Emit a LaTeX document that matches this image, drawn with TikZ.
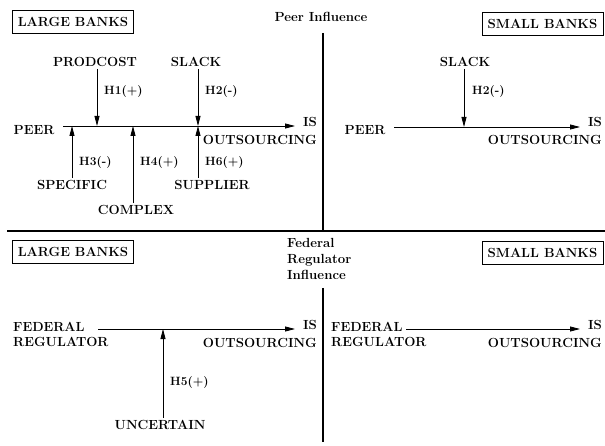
\documentclass[tikz,border=0pt]{standalone}
\usetikzlibrary{arrows.meta}
\begin{document}
\begin{tikzpicture}[x=1pt,y=-1pt,
  lbl/.style={font=\fontsize{13.2}{15}\selectfont\bfseries, inner sep=2pt},
  hlbl/.style={font=\fontsize{12}{14}\selectfont\bfseries, inner sep=1pt, anchor=west},
  box/.style={lbl, draw, line width=0.6pt, inner sep=0pt, minimum width=121pt, minimum height=23pt},
  arr/.style={line width=0.8pt, -{Triangle[length=10pt,width=5pt]}},
  div/.style={line width=1.2pt}]
\useasboundingbox (0,0) rectangle (605,446);

% dividers
\draw[div] (7,231) -- (605,231);
\draw[div] (323,33) -- (323,231);
\draw[div] (323,288) -- (323,442);

% titles
\node[lbl] (ptitle) at (321,17) {Peer Influence};
\node[lbl, align=left, anchor=west, font=\fontsize{13.2}{16}\selectfont\bfseries] (ftitle) at (285,259) {Federal\\Regulator\\Influence};

% boxes
\node[box] (lb1) at (73,21.5) {LARGE BANKS};
\node[box] (sb1) at (542.5,24) {SMALL BANKS};
\node[box] (lb2) at (73,252) {LARGE BANKS};
\node[box] (sb2) at (542.5,253) {SMALL BANKS};

% ---------- top left ----------
\node[lbl] (peer1) at (34,130) {PEER};
\node[lbl, anchor=east] (is1) at (319,122) {IS};
\node[lbl, anchor=east] (out1) at (319,140) {OUTSOURCING};
\coordinate (a1) at (63,126);
\coordinate (b1) at (295,126);
\draw[arr] (a1) -- (b1);

\node[lbl] (prodcost) at (95,62) {PRODCOST};
\node[lbl] (slack1) at (196,62) {SLACK};
\node[lbl] (specific) at (72,185) {SPECIFIC};
\node[lbl] (complex) at (136,210) {COMPLEX};
\node[lbl] (supplier) at (212,185) {SUPPLIER};

\coordinate (jP) at (97,126);
\coordinate (jS) at (198,126);
\coordinate (jSp) at (72,126);
\coordinate (jC) at (133,126);

\draw[arr] (jP |- prodcost.south) -- (jP);
\draw[arr] (jS |- slack1.south) -- (jS);
\draw[arr] (jSp |- specific.north) -- (jSp);
\draw[arr] (jC |- complex.north) -- (jC);
\draw[arr] (jS |- supplier.north) -- (jS);

\node[hlbl] (h1) at (103,92) {H1(+)};
\node[hlbl] (h2) at (204,92) {H2(-)};
\node[hlbl] (h3) at (78,163) {H3(-)};
\node[hlbl] (h4) at (139,163) {H4(+)};
\node[hlbl] (h6) at (204,163) {H6(+)};

% ---------- top right ----------
\node[lbl] (peer2) at (365,130) {PEER};
\node[lbl, anchor=east] (is2) at (604,122) {IS};
\node[lbl, anchor=east] (out2) at (604,140) {OUTSOURCING};
\coordinate (a2) at (394,127);
\coordinate (b2) at (580,127);
\draw[arr] (a2) -- (b2);
\node[lbl] (slack2) at (465,62) {SLACK};
\coordinate (jS2) at (464,127);
\draw[arr] (jS2 |- slack2.south) -- (jS2);
\node[hlbl] (h2b) at (471,92) {H2(-)};

% ---------- bottom left ----------
\node[lbl, align=left, anchor=west] (fed1) at (11,334.5) {FEDERAL\\REGULATOR};
\node[lbl, anchor=east] (is3) at (319,325) {IS};
\node[lbl, anchor=east] (out3) at (319,343) {OUTSOURCING};
\coordinate (a3) at (98,329);
\coordinate (b3) at (295,329);
\draw[arr] (a3) -- (b3);
\node[lbl] (uncertain) at (160,425) {UNCERTAIN};
\coordinate (j5) at (163,329);
\draw[arr] (j5 |- uncertain.north) -- (j5);
\node[hlbl] (h5) at (169,383) {H5(+)};

% ---------- bottom right ----------
\node[lbl, align=left, anchor=west] (fed2) at (329,334.5) {FEDERAL\\REGULATOR};
\node[lbl, anchor=east] (is4) at (604,325) {IS};
\node[lbl, anchor=east] (out4) at (604,343) {OUTSOURCING};
\coordinate (a4) at (406,329);
\coordinate (b4) at (580,329);
\draw[arr] (a4) -- (b4);
\end{tikzpicture}
\end{document}
